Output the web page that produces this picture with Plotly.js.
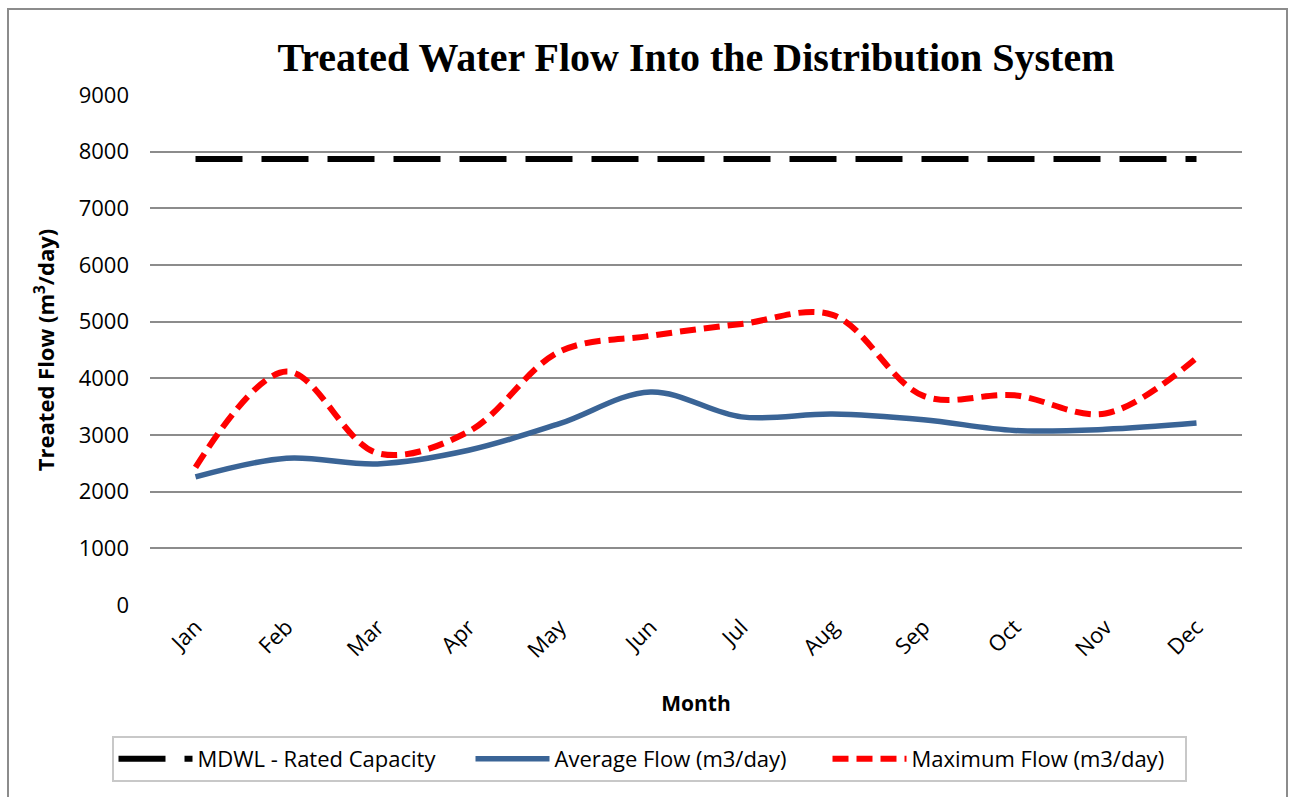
<!DOCTYPE html>
<html>
<head>
<meta charset="utf-8">
<script src="https://cdn.plot.ly/plotly-3.0.1.min.js"></script>
<style>
  html, body { margin: 0; padding: 0; background: #fff; }
  #wrap { position: relative; width: 1292px; height: 797px; overflow: hidden; }
  #chart { width: 1292px; height: 797px; }
  #frame { position: absolute; left: 7px; top: 8px; width: 1281px; height: 820px;
           border: 2px solid #8c8c8c; pointer-events: none; box-sizing: border-box; }
</style>
</head>
<body>
<div id="wrap">
  <div id="chart"></div>
  <div id="frame"></div>
</div>
<script>
const months = ["Jan","Feb","Mar","Apr","May","Jun","Jul","Aug","Sep","Oct","Nov","Dec"];
const ratedCapacity = [7870,7870,7870,7870,7870,7870,7870,7870,7870,7870,7870,7870];
const averageFlow = [2260,2590,2490,2730,3200,3760,3320,3370,3270,3080,3100,3210];
const maximumFlow = [2430,4120,2680,3060,4470,4750,4960,5120,3690,3700,3380,4360];
const yTicks = [0,1000,2000,3000,4000,5000,6000,7000,8000,9000];

const tickFont = {family: "Open Sans, sans-serif", size: 22, color: "#000"};

const traces = [
  {x: months, y: ratedCapacity, type: "scatter", mode: "lines",
   name: "MDWL - Rated Capacity",
   line: {color: "#000000", width: 6, dash: "47px,19px"}},
  {x: months, y: averageFlow, type: "scatter", mode: "lines",
   name: "Average Flow (m3/day)",
   line: {color: "#3a6496", width: 5.5, shape: "spline", smoothing: 1}},
  {x: months, y: maximumFlow, type: "scatter", mode: "lines",
   name: "Maximum Flow (m3/day)",
   line: {color: "#ff0000", width: 6, dash: "16px,8px", shape: "spline", smoothing: 1}}
];

const layout = {
  width: 1292, height: 797,
  margin: {l: 150, r: 50, t: 95, b: 192, autoexpand: false},
  paper_bgcolor: "#ffffff", plot_bgcolor: "#ffffff",
  showlegend: true,
  title: {text: "<b>Treated Water Flow Into the Distribution System</b>",
          font: {family: "Liberation Serif, serif", size: 40, color: "#000"},
          x: 0.5, xref: "paper", xanchor: "center",
          y: 1 - 57/797, yref: "container", yanchor: "middle"},
  xaxis: {type: "category", range: [-0.5, 11.5], categoryarray: months,
          tickangle: -45, tickfont: tickFont, showgrid: false, showline: false,
          zeroline: false, ticks: "", ticklabelstandoff: 4, automargin: false,
          title: {text: "<b>Month</b>", font: {family: "Open Sans, sans-serif", size: 21, color: "#000"}, standoff: 33}},
  yaxis: {range: [0, 9000], tickvals: yTicks, ticktext: yTicks.map(String),
          tickfont: tickFont, showgrid: true, gridcolor: "#8c8c8c", gridwidth: 2,
          zeroline: false, showline: false, ticks: "", ticklabelstandoff: 20, automargin: false,
          title: {text: "<b>Treated Flow (m<sup>3</sup>/day)</b>", font: {family: "Open Sans, sans-serif", size: 22, color: "#000"}, standoff: 17}},
  legend: {orientation: "h", x: 649/1292, xanchor: "center", xref: "container",
           y: 1 - 736/797, yanchor: "top", yref: "container",
           bordercolor: "#c8c8c8", borderwidth: 2, bgcolor: "#fff",
           font: {family: "Open Sans, sans-serif", size: 22, color: "#000"},
           itemwidth: 74, entrywidth: 268, entrywidthmode: "pixels",
           traceorder: "normal"}
};

Plotly.newPlot("chart", traces, layout, {displayModeBar: false, staticPlot: true});
</script>
</body>
</html>
